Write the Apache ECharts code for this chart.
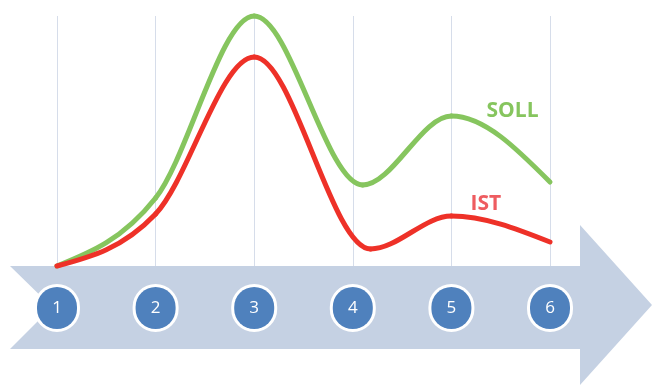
<!DOCTYPE html>
<html>
<head>
<meta charset="utf-8">
<title>SOLL / IST</title>
<script src="https://cdn.jsdelivr.net/npm/echarts@6/dist/echarts.min.js"></script>
<style>
  html, body { margin: 0; padding: 0; background: #ffffff; }
  #chart { width: 652px; height: 385px; }
</style>
</head>
<body>
<div id="chart"></div>
<script>
// Process steps shown in the circles on the arrow
const steps = ['1', '2', '3', '4', '5', '6'];

// Curve key points as [step position, level]: step values plus the dips
const sollData = [
  [1, 0], [2, 68], [3, 250], [4.1, 81], [5, 150], [6, 84]
];
const istData = [
  [1, 0], [2, 52], [3, 209], [4.18, 17], [5, 50], [6, 24]
];

// Series names and where their names are written
const sollName = 'SOLL';
const istName = 'IST';
const sollLabelAt = [5.62, 155];
const istLabelAt = [5.35, 62];

const sollColor = '#86C55E';
const istColor = '#EE3128';

// Monotone cubic (x-monotone) tangents, computed in pixel space
function monotoneTangents(pts) {
  const n = pts.length;
  const t = new Array(n).fill(0);
  const sign = v => (v > 0 ? 1 : v < 0 ? -1 : 0);
  for (let i = 1; i < n - 1; i++) {
    const h0 = pts[i][0] - pts[i - 1][0];
    const h1 = pts[i + 1][0] - pts[i][0];
    const s0 = (pts[i][1] - pts[i - 1][1]) / h0;
    const s1 = (pts[i + 1][1] - pts[i][1]) / h1;
    const p = (s0 * h1 + s1 * h0) / (h0 + h1);
    t[i] = (sign(s0) + sign(s1)) * Math.min(Math.abs(s0), Math.abs(s1), 0.5 * Math.abs(p)) || 0;
  }
  const sFirst = (pts[1][1] - pts[0][1]) / (pts[1][0] - pts[0][0]);
  const sLast = (pts[n - 1][1] - pts[n - 2][1]) / (pts[n - 1][0] - pts[n - 2][0]);
  t[0] = (3 * sFirst - t[1]) / 2;
  t[n - 1] = (3 * sLast - t[n - 2]) / 2;
  return t;
}

// Custom series: each item draws the curve segment to the next item
function curveSeries(name, data, color, z) {
  return {
    name: name,
    type: 'custom',
    data: data,
    z: z,
    encode: { x: 0, y: 1 },
    renderItem: function (params, api) {
      const i = params.dataIndex;
      if (i >= data.length - 1) return null;
      const pts = data.map(d => api.coord(d));
      const tan = monotoneTangents(pts);
      const p0 = pts[i], p1 = pts[i + 1];
      const dx = (p1[0] - p0[0]) / 3;
      return {
        type: 'bezierCurve',
        shape: {
          x1: p0[0], y1: p0[1],
          cpx1: p0[0] + dx, cpy1: p0[1] + dx * tan[i],
          cpx2: p1[0] - dx, cpy2: p1[1] - dx * tan[i + 1],
          x2: p1[0], y2: p1[1]
        },
        style: { stroke: color, lineWidth: 5, fill: null, lineCap: 'round' }
      };
    }
  };
}

// Name label placed in data coordinates
function nameLabel(name, at, color) {
  return {
    type: 'scatter',
    data: [at],
    symbolSize: 0,
    z: 5,
    silent: true,
    itemStyle: { opacity: 1 },
    label: {
      show: true,
      position: 'inside',
      formatter: name,
      color: color,
      opacity: 1,
      fontSize: 21,
      fontWeight: 'bold',
      fontFamily: 'Open Sans'
    }
  };
}

const chart = echarts.init(document.getElementById('chart'));

const option = {
  backgroundColor: '#ffffff',
  animation: false,
  grid: { left: 57, right: 102, top: 16, bottom: 119, containLabel: false },
  xAxis: {
    type: 'value',
    min: 1,
    max: 6,
    interval: 1,
    axisLine: { show: false },
    axisTick: { show: false },
    splitLine: { show: true, lineStyle: { color: '#D6DDEA', width: 1 } },
    axisLabel: {
      margin: 21,
      formatter: function (v) { return '{c|' + steps[Math.round(v) - 1] + '}'; },
      rich: {
        c: {
          width: 40,
          height: 42,
          lineHeight: 42,
          align: 'center',
          verticalAlign: 'middle',
          borderRadius: 21,
          backgroundColor: '#4F81BD',
          borderColor: '#ffffff',
          borderWidth: 3,
          color: '#ffffff',
          fontSize: 17,
          fontFamily: 'Open Sans'
        }
      }
    }
  },
  yAxis: {
    type: 'value',
    min: 0,
    max: 250,
    show: false,
    splitLine: { show: false }
  },
  graphic: [
    {
      type: 'polygon',
      z: -10,
      silent: true,
      shape: {
        points: [
          [10, 266], [580, 266], [580, 225], [652, 305], [580, 385],
          [580, 349], [10, 349], [52, 307]
        ]
      },
      style: { fill: '#C5D1E3' }
    }
  ],
  series: [
    curveSeries(sollName, sollData, sollColor, 3),
    curveSeries(istName, istData, istColor, 4),
    nameLabel(sollName, sollLabelAt, '#86C55E'),
    nameLabel(istName, istLabelAt, '#EE5C60')
  ]
};

chart.setOption(option);
</script>
</body>
</html>
